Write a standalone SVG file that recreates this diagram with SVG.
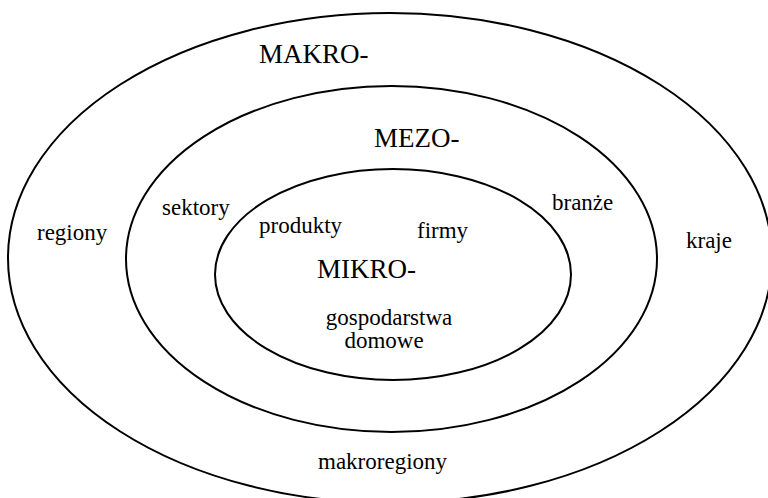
<svg xmlns="http://www.w3.org/2000/svg" width="768" height="498" viewBox="0 0 768 498" font-family="'Liberation Serif', 'Times New Roman', serif">
<style>
ellipse{fill:none;stroke:#000;stroke-width:2}
text{font-family:'Liberation Serif','Times New Roman',serif;fill:#000}
.cap{font-size:27px}
.word{font-size:23px}
</style>
<rect width="768" height="498" fill="#fff"/>
<g id="makro">
<ellipse cx="390" cy="258" rx="382" ry="245"/>
<text class="cap" x="259" y="63">MAKRO-</text>
<text class="word" x="37" y="240">regiony</text>
<text class="word" x="686" y="248">kraje</text>
<text class="word" x="318" y="469">makroregiony</text>
</g>
<g id="mezo">
<ellipse cx="391.5" cy="259" rx="265.5" ry="173"/>
<text class="cap" x="374" y="147">MEZO-</text>
<text class="word" x="162" y="215">sektory</text>
<text class="word" x="552" y="210">branże</text>
</g>
<g id="mikro">
<ellipse cx="393" cy="274.5" rx="178" ry="105.5"/>
<text class="cap" x="317" y="278">MIKRO-</text>
<text class="word" x="259" y="233">produkty</text>
<text class="word" x="417" y="238">firmy</text>
<text class="word" x="389" y="325" text-anchor="middle">gospodarstwa</text>
<text class="word" x="384" y="348" text-anchor="middle">domowe</text>
</g>
<g id="connectors"></g>
</svg>
